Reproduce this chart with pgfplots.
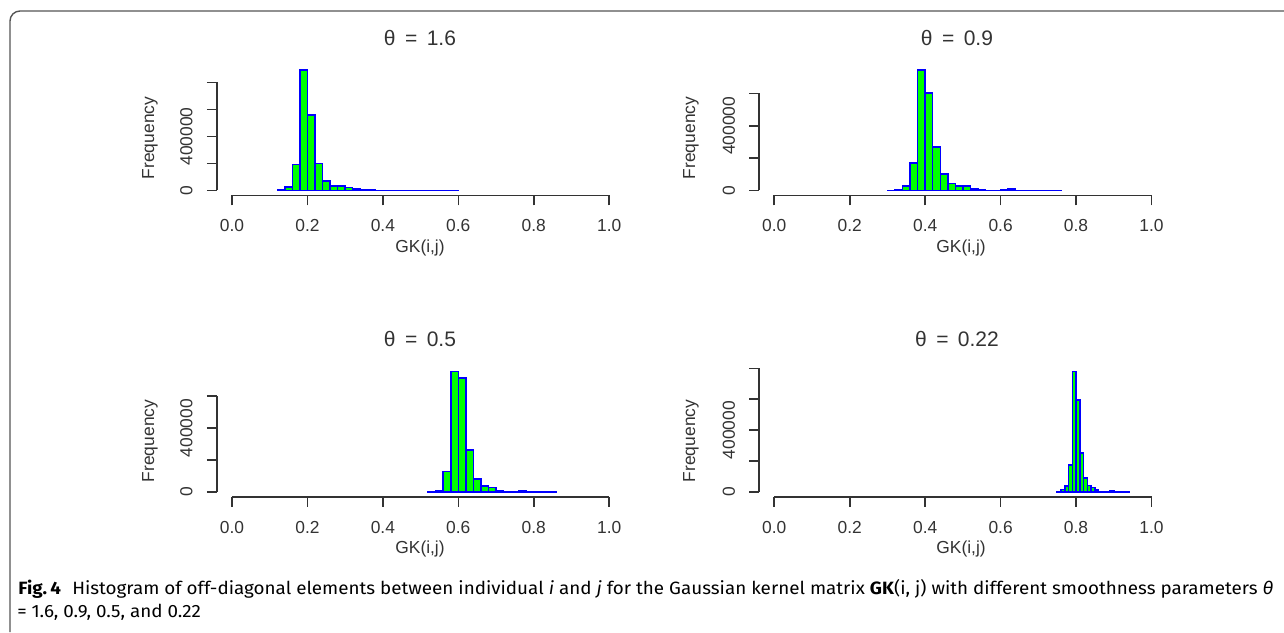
\documentclass[border=0pt]{standalone}
\usepackage{fontspec}
\setmainfont{Liberation Sans}
\newfontfamily\capfont{Fira Sans}
\usepackage{graphicx}
\usepackage{pgfplots}
\pgfplotsset{compat=1.18}

\definecolor{rgreen}{HTML}{00FF00}
\definecolor{rblue}{HTML}{0000FF}
\definecolor{axcol}{HTML}{333333}
\definecolor{framecol}{HTML}{555555}

% one R-style histogram panel
\pgfplotsset{
  rhist/.style={
    scale only axis, width=203.7pt, height=65pt,
    anchor=south west, clip=false,
    xmin=-0.04, xmax=1.04,
    axis lines=left, axis line style={draw=none},
    tick align=outside, major tick length=5pt,
    tick style={axcol, line width=0.8pt},
    xtick={0,0.2,0.4,0.6,0.8,1},
    xticklabels={0.0,0.2,0.4,0.6,0.8,1.0},
    ytick={0,200000,400000,600000,800000},
    yticklabels={0,,400000,,},
    scaled y ticks=false,
    ticklabel style={font=\fontsize{8.7}{10}\selectfont, text=axcol},
    xticklabel style={anchor=north},
    yticklabel style={rotate=90, anchor=south},
    xticklabel shift=3.7pt,
    yticklabel shift=3.6pt,
    /pgf/number format/assume math mode=true,
  },
  rbars/.style={ybar interval, fill=rgreen, draw=rblue, line width=0.75pt},
}
\tikzset{
  axline/.style={axcol, line width=0.8pt},
  lab/.style={font=\fontsize{8.7}{10}\selectfont, text=axcol, inner sep=0pt},
  ttl/.style={font=\fontsize{10.5}{12}\selectfont, text=axcol, inner sep=0pt},
}

\newsavebox\capA
\newsavebox\capB

\begin{document}
\sbox\capA{\capfont\fontsize{8.9}{10}\selectfont\textbf{Fig.\,4}\hspace{0.6em}Histogram of off-diagonal elements between individual \textit{i} and \textit{j} for the Gaussian kernel matrix \textbf{GK}(i, j) with different smoothness parameters \textit{θ}}%
\sbox\capB{\capfont\fontsize{8.9}{10}\selectfont =\hspace{0.25em}1.6, 0.9, 0.5, and 0.22}%
\pgfmathsetmacro\capscale{627.5/\the\wd\capA}%
\begin{tikzpicture}
\useasboundingbox (0,0) rectangle (642pt,-316pt);
\draw[framecol, line width=0.7pt, rounded corners=5pt] (5pt,-316pt) -- (5pt,-5.5pt) -- (642pt,-5.5pt);

% theta = 1.6
\begin{axis}[rhist, at={(108.45pt,-97.65pt)}, ymin=-35640, ymax=926640]
\addplot[rbars] coordinates {
(0.12,2000) (0.14,25000) (0.16,193000) (0.18,891000) (0.20,560000)
(0.22,200000) (0.24,69000) (0.26,32000) (0.28,32000) (0.30,22000)
(0.32,10000) (0.34,3000) (0.36,2000) (0.38,1000) (0.40,800)
(0.42,600) (0.44,400) (0.46,300) (0.48,200) (0.50,200)
(0.52,100) (0.54,100) (0.56,100) (0.58,100) (0.60,0)
};
\draw[axline] (0,-35640) -- (1,-35640);
\draw[axline] (-0.04,0) -- (-0.04,800000);
\end{axis}

% theta = 0.9
\begin{axis}[rhist, at={(379.6pt,-97.65pt)}, ymin=-29760, ymax=773760]
\addplot[rbars] coordinates {
(0.30,1000) (0.32,2000) (0.34,29000) (0.36,169000) (0.38,744000)
(0.40,604000) (0.42,270000) (0.44,101000) (0.46,43000) (0.48,29000)
(0.50,29000) (0.52,10000) (0.54,2000) (0.56,1000) (0.58,1000)
(0.60,1500) (0.62,8000) (0.64,1000) (0.66,500) (0.68,300)
(0.70,200) (0.72,100) (0.74,100) (0.76,0)
};
\draw[axline] (0,-29760) -- (1,-29760);
\draw[axline] (-0.04,0) -- (-0.04,600000);
\end{axis}

% theta = 0.5
\begin{axis}[rhist, at={(108.45pt,-248.35pt)}, ymin=-30160, ymax=784160]
\addplot[rbars] coordinates {
(0.52,1000) (0.54,8000) (0.56,127000) (0.58,754000) (0.60,713000)
(0.62,263000) (0.64,82000) (0.66,38000) (0.68,27000) (0.70,10000)
(0.72,2000) (0.74,1500) (0.76,8000) (0.78,1000) (0.80,500)
(0.82,300) (0.84,200) (0.86,0)
};
\draw[axline] (0,-30160) -- (1,-30160);
\draw[axline] (-0.04,0) -- (-0.04,600000);
\end{axis}

% theta = 0.22
\begin{axis}[rhist, at={(379.6pt,-248.35pt)}, ymin=-31200, ymax=811200]
\addplot[rbars] coordinates {
(0.75,1000) (0.76,15000) (0.77,37000) (0.78,175000) (0.79,780000)
(0.80,595000) (0.81,253000) (0.82,91000) (0.83,41000) (0.84,28000)
(0.85,13000) (0.86,2000) (0.87,1000) (0.88,1000) (0.89,7000)
(0.90,1000) (0.91,500) (0.92,300) (0.93,200) (0.94,0)
};
\draw[axline] (0,-31200) -- (1,-31200);
\draw[axline] (-0.04,0) -- (-0.04,800000);
\end{axis}

% titles
\node[ttl] at (210pt,-19pt) {θ\hspace{0.45em}=\hspace{0.45em}1.6};
\node[ttl] at (478.5pt,-19pt) {θ\hspace{0.45em}=\hspace{0.45em}0.9};
\node[ttl] at (210pt,-169.5pt) {θ\hspace{0.45em}=\hspace{0.45em}0.5};
\node[ttl] at (478.5pt,-169.5pt) {θ\hspace{0.45em}=\hspace{0.45em}0.22};

% axis labels
\node[lab] at (210pt,-124pt) {GK(i,j)};
\node[lab] at (480.5pt,-124pt) {GK(i,j)};
\node[lab] at (210pt,-274.5pt) {GK(i,j)};
\node[lab] at (480.5pt,-274.5pt) {GK(i,j)};
\node[lab, rotate=90] at (75pt,-69pt) {Frequency};
\node[lab, rotate=90] at (345.5pt,-69pt) {Frequency};
\node[lab, rotate=90] at (75pt,-220.5pt) {Frequency};
\node[lab, rotate=90] at (345.5pt,-220.5pt) {Frequency};

% caption
\node[anchor=base west, inner sep=0pt] at (9pt,-297.25pt) {\scalebox{\capscale}[1]{\usebox\capA}};
\node[anchor=base west, inner sep=0pt] at (8.5pt,-308.75pt) {\scalebox{\capscale}[1]{\usebox\capB}};
\end{tikzpicture}
\end{document}
